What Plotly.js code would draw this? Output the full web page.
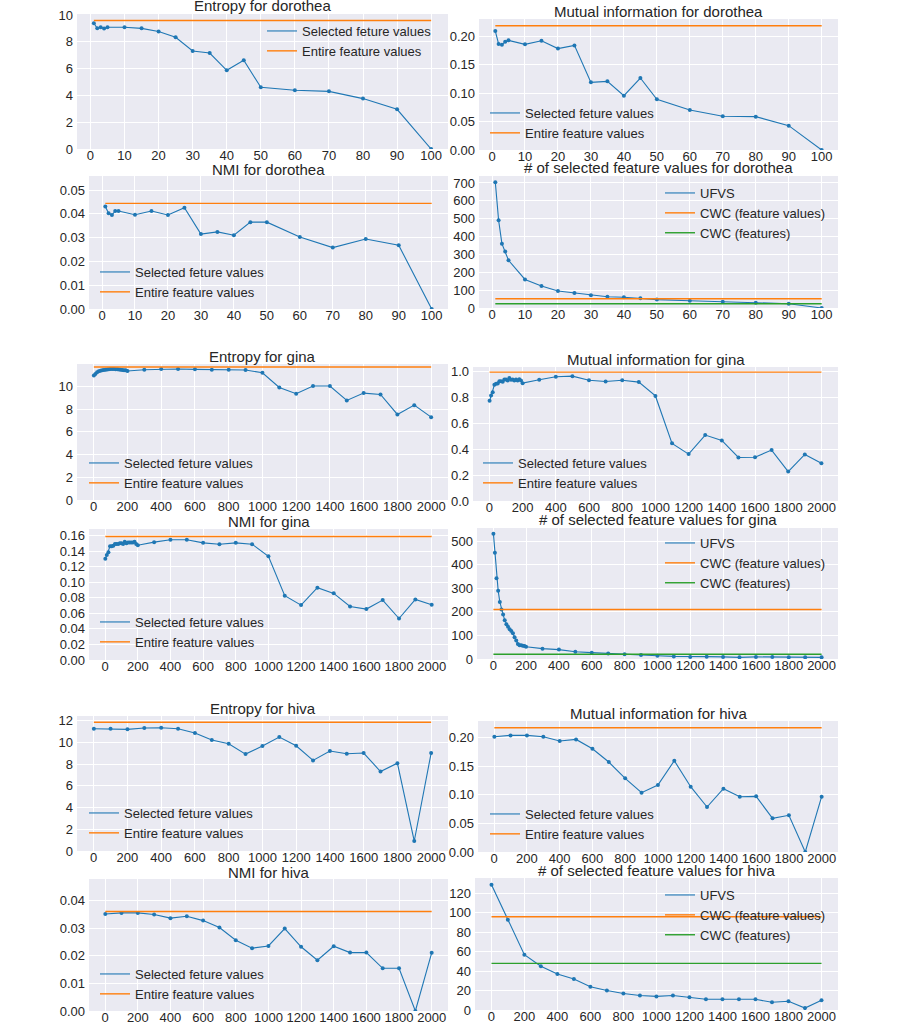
<!DOCTYPE html>
<html><head><meta charset="utf-8">
<script src="https://cdn.plot.ly/plotly-3.0.1.min.js"></script>
<style>html,body{margin:0;padding:0;background:#fff}#chart{width:901px;height:1023px}</style>
</head><body><div id="chart"></div>
<script>
// ---------------- DATA ----------------
const doroX = [1,2,3,4,5,10,15,20,25,30,35,40,45,50,60,70,80,90,100];
const doroEntropy = [9.38,9.0,9.08,8.98,9.08,9.08,9.0,8.76,8.33,7.31,7.16,5.87,6.62,4.6,4.38,4.3,3.76,2.96,0];
const doroEntropyAll = 9.58;
const doroMI = [0.2088,0.186,0.1848,0.190,0.1924,0.1854,0.1918,0.178,0.1836,0.1187,0.1205,0.0953,0.1263,0.0889,0.0702,0.0591,0.0585,0.0427,0];
const doroMIAll = 0.2181;
const doroNMI = [0.0431,0.0402,0.0395,0.0412,0.0412,0.0396,0.0412,0.0395,0.0426,0.0315,0.0324,0.031,0.0365,0.0365,0.0303,0.0258,0.0294,0.0268,0];
const doroNMIAll = 0.0444;
const doroCount = [704,491,360,317,267,160,123,95,84,71,63,60,54,47,41,35,30,24,0];
const doroCwcValues = 52;
const doroCwcFeatures = 24;

const ginaX = [1,10,20,30,40,50,60,70,80,90,100,110,120,130,140,150,160,170,180,190,200,
  300,400,500,600,700,800,900,1000,1100,1200,1300,1400,1500,1600,1700,1800,1900,2000];
const ginaEntropy = [10.95,11.1,11.25,11.33,11.38,11.42,11.45,11.47,11.48,11.5,11.52,11.52,11.52,11.5,11.5,11.48,11.47,11.45,11.43,11.42,11.35,
  11.47,11.53,11.53,11.5,11.47,11.47,11.44,11.2,9.91,9.35,10.03,10.03,8.76,9.41,9.29,7.53,8.35,7.29];
const ginaEntropyAll = 11.7;
const ginaMI = [0.775,0.816,0.842,0.899,0.907,0.909,0.927,0.927,0.922,0.94,0.94,0.933,0.951,0.938,0.94,0.933,0.94,0.933,0.943,0.933,0.912,
  0.938,0.961,0.966,0.935,0.925,0.935,0.92,0.813,0.446,0.363,0.51,0.469,0.337,0.339,0.394,0.228,0.36,0.293];
const ginaMIAll = 0.997;
const ginaNMI = [0.130,0.135,0.1385,0.146,0.146,0.1467,0.149,0.149,0.149,0.150,0.150,0.149,0.152,0.150,0.151,0.151,0.151,0.151,0.152,0.149,0.1475,
  0.1514,0.1544,0.1544,0.1505,0.1488,0.1505,0.1488,0.1333,0.0826,0.0705,0.0929,0.0856,0.0688,0.0654,0.077,0.0533,0.0778,0.071];
const ginaNMIAll = 0.1587;
const ginaCount = [532,451,343,290,242,210,189,164,147,137,126,119,109,92,78,64,58,58,56,55,52,
  44,40,31,27,23,20,17,14,11,9,10,9,7,9,9,7,7,7];
const ginaCwcValues = 210;
const ginaCwcFeatures = 20;

const hivaX = [1,100,200,300,400,500,600,700,800,900,1000,1100,1200,1300,1400,1500,1600,1700,1800,1900,2000];
const hivaEntropy = [11.26,11.26,11.2,11.32,11.35,11.26,10.86,10.22,9.88,8.92,9.66,10.49,9.69,8.34,9.2,8.95,9.02,7.32,8.09,0.92,9.02];
const hivaEntropyAll = 11.85;
const hivaMI = [0.2012,0.2035,0.2035,0.2012,0.1936,0.1965,0.1802,0.157,0.1285,0.1035,0.1169,0.1593,0.114,0.0785,0.1105,0.0965,0.0971,0.0587,0.064,0,0.0965];
const hivaMIAll = 0.2169;
const hivaNMI = [0.0352,0.0356,0.0356,0.035,0.0337,0.0344,0.0328,0.0303,0.0257,0.0228,0.0236,0.0299,0.0233,0.0184,0.0235,0.0212,0.0212,0.0155,0.0155,0,0.0211];
const hivaNMIAll = 0.0361;
const hivaCount = [129,93,57,45,37,32,24,20,17,15,14,15,13,11,11,11,11,8,9,2,10];
const hivaCwcValues = 96;
const hivaCwcFeatures = 48;

const titles = ['Entropy for dorothea','Mutual information for dorothea','NMI for dorothea','# of selected feature values for dorothea',
  'Entropy for gina','Mutual information for gina','NMI for gina','# of selected feature values for gina',
  'Entropy for hiva','Mutual information for hiva','NMI for hiva','# of selected feature values for hiva'];
const selName = 'Selected feture values';
const entName = 'Entire feature values';
const ufvsName = 'UFVS';
const cwcValName = 'CWC (feature values)';
const cwcFeatName = 'CWC (features)';

// ---------------- STYLE / LAYOUT ----------------
const W = 901, H = 1023;
const BLUE = '#1f77b4', ORANGE = '#ff7f0e', GREEN = '#2ca02c';
const FONT = 'Liberation Sans, Arial, sans-serif';
const TXT = '#262626';

// panel boxes in pixels: [left, right, top, bottom], title center y, y top value, y dtick, y format, x dtick, legend [lineStartX, row1CenterY]
const boxes = [
  {b:[77,448,14,149],   ty:6,     ytop:10.07,  dy:2,    fmt:'d',   dx:10,  leg:[267,31]},
  {b:[479,838,19,150],  ty:11.7,  ytop:0.2299, dy:0.05, fmt:'.2f', dx:10,  leg:[490,113]},
  {b:[89,448,176,309],  ty:170,   ytop:0.0559, dy:0.01, fmt:'.2f', dx:10,  leg:[100,272]},
  {b:[479,838,176,308], ty:167.3, ytop:739,    dy:100,  fmt:'d',   dx:10,  leg:[665,193]},
  {b:[77,448,364,500],  ty:356.7, ytop:11.97,  dy:2,    fmt:'d',   dx:200, leg:[89,463]},
  {b:[473,838,367,501], ty:359.3, ytop:1.037,  dy:0.2,  fmt:'.1f', dx:200, leg:[483,463]},
  {b:[89,448,529,660],  ty:521.7, ytop:0.1683, dy:0.02, fmt:'.2f', dx:200, leg:[100,622]},
  {b:[477,838,528,659], ty:519.3, ytop:556,    dy:100,  fmt:'d',   dx:200, leg:[665,543]},
  {b:[77,448,716,851],  ty:708.3, ytop:12.43,  dy:2,    fmt:'d',   dx:200, leg:[89,813]},
  {b:[478,838,721,852], ty:713.3, ytop:0.2286, dy:0.05, fmt:'.2f', dx:200, leg:[490,814]},
  {b:[89,448,879,1011], ty:872.3, ytop:0.0479, dy:0.01, fmt:'.2f', dx:200, leg:[100,974]},
  {b:[475,838,878,1010],ty:870,   ytop:135.9,  dy:20,   fmt:'d',   dx:200, leg:[665,895]}
];

const panelData = [
  {x:doroX, kind:'metric', y:doroEntropy, all:doroEntropyAll},
  {x:doroX, kind:'metric', y:doroMI, all:doroMIAll},
  {x:doroX, kind:'metric', y:doroNMI, all:doroNMIAll},
  {x:doroX, kind:'count', y:doroCount, cv:doroCwcValues, cf:doroCwcFeatures},
  {x:ginaX, kind:'metric', y:ginaEntropy, all:ginaEntropyAll},
  {x:ginaX, kind:'metric', y:ginaMI, all:ginaMIAll},
  {x:ginaX, kind:'metric', y:ginaNMI, all:ginaNMIAll},
  {x:ginaX, kind:'count', y:ginaCount, cv:ginaCwcValues, cf:ginaCwcFeatures},
  {x:hivaX, kind:'metric', y:hivaEntropy, all:hivaEntropyAll},
  {x:hivaX, kind:'metric', y:hivaMI, all:hivaMIAll},
  {x:hivaX, kind:'metric', y:hivaNMI, all:hivaNMIAll},
  {x:hivaX, kind:'count', y:hivaCount, cv:hivaCwcValues, cf:hivaCwcFeatures}
];

const traces = [];
const layout = {
  width: W, height: H,
  margin: {l:0, r:0, t:0, b:0},
  paper_bgcolor: '#ffffff',
  plot_bgcolor: '#EAEAF2',
  font: {family: FONT, color: TXT, size: 13},
  annotations: [],
  showlegend: true
};

panelData.forEach((p, i) => {
  const n = i + 1;
  const sfx = n === 1 ? '' : String(n);
  const xa = 'x' + sfx, ya = 'y' + sfx;
  const legId = 'legend' + sfx;
  const bx = boxes[i];
  const [l, r, t, b] = bx.b;
  const xmin = p.x[0], xmax = p.x[p.x.length - 1];
  const pad = 0.05 * (xmax - xmin);
  const ends = [xmin, xmax];

  layout['xaxis' + sfx] = {
    domain: [l / W, r / W], anchor: ya,
    range: [xmin - pad, xmax + pad],
    tick0: 0, dtick: bx.dx,
    showgrid: true, gridcolor: '#ffffff', gridwidth: 1,
    zeroline: false, showline: false, ticks: '',
    ticklabelstandoff: -3,
    tickfont: {family: FONT, size: 13, color: TXT}
  };
  layout['yaxis' + sfx] = {
    domain: [1 - b / H, 1 - t / H], anchor: xa,
    range: [0, bx.ytop],
    tick0: 0, dtick: bx.dy, tickformat: bx.fmt,
    showgrid: true, gridcolor: '#ffffff', gridwidth: 1,
    zeroline: false, showline: false, ticks: '',
    ticklabelstandoff: 3,
    tickfont: {family: FONT, size: 13, color: TXT}
  };
  layout[legId] = {
    x: (bx.leg[0] - 5) / W, y: 1 - (bx.leg[1] - 15) / H,
    xanchor: 'left', yanchor: 'top',
    bgcolor: 'rgba(0,0,0,0)', borderwidth: 0,
    font: {family: FONT, size: 13, color: TXT},
    tracegroupgap: 0, itemwidth: 30
  };
  layout.annotations.push({
    text: titles[i], xref: 'paper', yref: 'paper',
    x: ((l + r) / 2) / W, y: 1 - bx.ty / H,
    xanchor: 'center', yanchor: 'middle', showarrow: false,
    font: {family: FONT, size: 15, color: TXT}
  });

  const mainName = p.kind === 'metric' ? selName : ufvsName;
  traces.push({type:'scatter', mode:'lines', x:p.x, y:p.y, xaxis:xa, yaxis:ya,
    name: mainName, legend: legId,
    line:{color:BLUE, width:1.1}});
  traces.push({type:'scatter', mode:'markers', x:p.x, y:p.y, xaxis:xa, yaxis:ya,
    showlegend:false, marker:{color:BLUE, size:4}, hoverinfo:'skip'});
  if (p.kind === 'metric') {
    traces.push({type:'scatter', mode:'lines', x:ends, y:[p.all, p.all], xaxis:xa, yaxis:ya,
      name: entName, legend: legId,
      line:{color:ORANGE, width:1.4}});
  } else {
    traces.push({type:'scatter', mode:'lines', x:ends, y:[p.cv, p.cv], xaxis:xa, yaxis:ya,
      name: cwcValName, legend: legId,
      line:{color:ORANGE, width:1.4}});
    traces.push({type:'scatter', mode:'lines', x:ends, y:[p.cf, p.cf], xaxis:xa, yaxis:ya,
      name: cwcFeatName, legend: legId,
      line:{color:GREEN, width:1.4}});
  }
});

Plotly.newPlot('chart', traces, layout, {displayModeBar:false, staticPlot:true});
</script>
</body></html>
